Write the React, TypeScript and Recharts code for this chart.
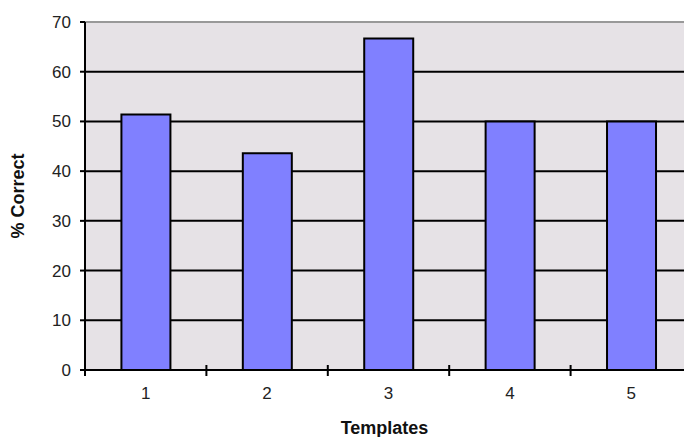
import { Bar, BarChart, CartesianGrid, Label, ReferenceLine, XAxis, YAxis } from 'recharts'

const templates = ['1', '2', '3', '4', '5']
const percentCorrect = [51.4, 43.6, 66.7, 50, 50]
const yTicks = [0, 10, 20, 30, 40, 50, 60, 70]

const data = templates.map((t, i) => ({ t, v: percentCorrect[i] }))

const FONT = '"Liberation Sans", Arial, Helvetica, sans-serif'

function XTick(props: any) {
  const { x, y, payload, index } = props
  const off = payload?.offset ?? 0
  const last = index === templates.length - 1
  return (
    <g>
      <line x1={x - off} x2={x - off} y1={y - 5} y2={y + 6} stroke="#000" strokeWidth={2} />
      {last && <line x1={x + off} x2={x + off} y1={y - 5} y2={y + 6} stroke="#000" strokeWidth={2} />}
      <text x={x} y={y + 29} textAnchor="middle" fontSize={17} fill="#222" fontFamily={FONT}>
        {payload.value}
      </text>
    </g>
  )
}

export default function App() {
  return (
    <div
      style={{
        position: 'fixed',
        left: 0,
        top: 0,
        width: 684,
        height: 437,
        overflow: 'hidden',
        background: '#fff',
      }}
    >
      <BarChart
        width={700}
        height={437}
        data={data}
        margin={{ top: 22, right: 8, left: 0, bottom: 0 }}
        barCategoryGap="30%"
        style={{ fontFamily: FONT }}
      >
        <CartesianGrid vertical={false} stroke="#000" strokeWidth={2} fill="#e6e2e6" />
        <XAxis
          dataKey="t"
          height={67}
          tickLine={false}
          tickSize={0}
          tickMargin={0}
          axisLine={{ stroke: '#000', strokeWidth: 2 }}
          tick={<XTick />}
        >
          <Label
            value="Templates"
            position="insideBottom"
            offset={3}
            dx={-4}
            fontSize={18}
            fontWeight="bold"
            fill="#111"
          />
        </XAxis>
        <YAxis
          width={85}
          domain={[0, 70]}
          ticks={yTicks}
          tickSize={5}
          tickMargin={9}
          tickLine={{ stroke: '#000', strokeWidth: 2 }}
          axisLine={{ stroke: '#000', strokeWidth: 2 }}
          tick={{ fill: '#222', fontSize: 17 }}
        >
          <Label
            value="% Correct"
            angle={-90}
            position="insideLeft"
            offset={18}
            fontSize={18}
            fontWeight="bold"
            fill="#111"
            style={{ textAnchor: 'middle' }}
          />
        </YAxis>
        <ReferenceLine y={70} stroke="#999" strokeWidth={2} />
        <Bar dataKey="v" fill="#8080ff" stroke="#000" strokeWidth={2} isAnimationActive={false} />
      </BarChart>
    </div>
  )
}
